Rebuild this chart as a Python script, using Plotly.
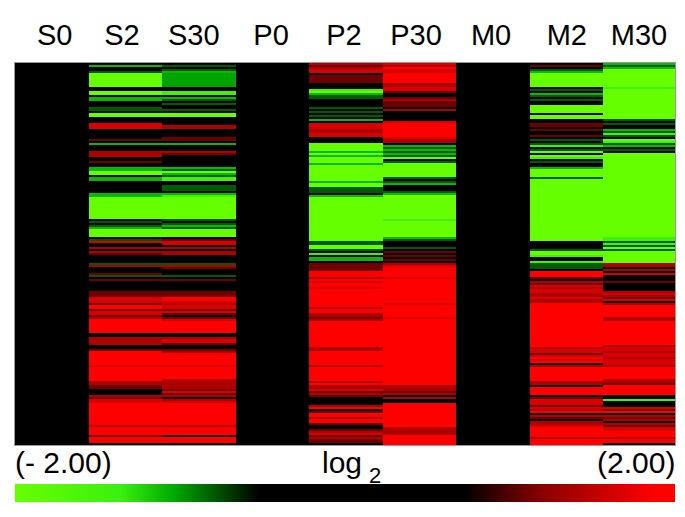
import plotly.graph_objects as go

# Chart content
COLUMNS = ["S0", "S2", "S30", "P0", "P2", "P30", "M0", "M2", "M30"]
N_ROWS = 191
LEVELS = {"G": -2.0, "h": -1.45, "g": -1.1, "n": -1.02, "d": -0.8, "k": 0.0, "e": 1.1, "r": 1.4, "m": 1.65, "R": 2.0}

# Each entry is <first row of band><level>, top to bottom
S0 = "0k"
S2 = ("0k 1g 2k 4d 5G 12k 14G 16k 17g 19k 22d 24k 25G 27k 30m 33k 38e 39k 40g 41k 44r 47k 49e 50k 52g 54G 56k 57g "
      "59k 65g 67G 78k 79d 80k 81d 82g 83G 87k 88d 89m 90k 92r 93k 94r 95e 96k 100d 101r 102k 105e 106d 107k 108e "
      "109k 114e 117m 120e 121R 123e 124m 126e 127r 128R 135k 137r 141k 143e 144R 151m 152R 159r 161e 163k 166r "
      "167e 168m 170R 181r 182R 186e 187R 190k")
S30 = ("0k 1d 2k 3d 4g 5n 12k 14h 16k 17g 18d 19k 20d 21k 23d 24k 25G 27k 31r 33k 37e 39k 40g 41k 44r 45e 46k "
       "52g 53d 54G 55g 56d 57h 59k 61d 64k 65g 66h 67G 78d 79k 80d 81g 82d 83G 87k 88e 89m 91k 92r 93k 94r 96k "
       "100d 101r 102e 103k 106d 107k 108e 109k 114e 117R 119m 120r 121m 123e 124m 125e 126k 127e 128m 129R 135k "
       "137r 138m 140e 141k 143e 144r 145R 151m 152R 158r 163e 164m 165e 166r 167k 168r 169m 170R 181r 182R 186k "
       "187R 190k")
P0 = "0k"
P2 = ("0r 1e 2r 3m 5k 6e 10k 13h 14G 15g 16d 18k 22d 23k 24d 25k 26d 27k 28g 29k 30m 33r 35m 37k 40G 44g 45G 46g "
      "47G 50g 51G 59g 60G 62d 65k 66g 67G 89d 91G 93d 94k 95h 96k 97g 99k 100e 104R 107r 108R 109m 110R 112m "
      "113R 122r 123R 125r 127e 128r 129R 142r 144R 151r 152R 159r 160R 161r 163m 164e 165r 166e 167k 171r 172R "
      "173k 174e 175R 177r 178R 180e 181k 183e 184r 185m 186e 187r 188e 190k")
P30 = ("0m 1r 2R 3m 5R 10r 12m 14e 15k 17e 18r 19e 22k 23r 24k 29m 30R 37m 38r 40k 41g 42d 43g 44d 45g 46d 47G 48k "
       "49d 50G 57d 58k 59d 60g 61k 64d 65g 66G 78h 79G 87g 88d 89k 92d 93k 94e 95k 96e 97k 98e 99k 100r 101m 102R "
       "107m 108R 120m 121R 127m 128R 161r 164e 165r 166k 167r 168k 170R 182r 186R")
M0 = "0k"
M2 = ("0k 1e 2k 3d 4g 5G 12k 13d 14k 15g 16d 17k 18d 19k 21G 25k 26G 28k 30e 32k 33e 34k 36e 37k 38d 39k 40d 41h "
      "42k 43d 44G 45k 46G 47h 48k 49d 50k 52g 53G 57d 58G 89k 93d 94G 96h 97k 99h 100d 103k 104R 107e 108k 109r "
      "110e 111m 112r 113m 115r 117m 118r 120R 142r 143m 145e 146m 147R 148m 149R 150k 151r 152R 159r 161k 162R "
      "166k 167e 168m 171e 172m 173r 174R 175k 176r 177e 178k 179r 181m 182R 187r 188R")
M30 = ("0g 1d 2g 3G 12h 13G 28d 29k 30d 31k 33g 34d 35h 36d 37k 38G 39h 40d 41g 42k 43d 44k 45G 87h 89d 90h 91d 92G "
       "93d 94G 100r 101r 102k 103r 104k 105m 106k 109e 110k 114r 115m 116r 117e 118m 119k 120r 121R 127r 129R 141r "
       "142m 144r 145m 147r 148m 151r 152R 158r 160e 161R 166k 168h 169k 172m 173e 174R 175k 176r 177e 178r 179k "
       "180r 181e 182m 184R 187r 188R 190k")

# Scale stops
SCALE = [[0.0, "#66ff00"], [0.16, "#39f010"], [0.24, "#00aa00"], [0.37, "#000000"], [0.68, "#000000"],
         [0.80, "#8b0000"], [0.97, "#ff0000"], [1.0, "#ff0000"]]


def expand(spec):
    values = [0.0] * N_ROWS
    items = [(int(s[:-1]), s[-1]) for s in spec.split()]
    for i, (start, code) in enumerate(items):
        end = items[i + 1][0] if i + 1 < len(items) else N_ROWS
        for r in range(start, end):
            values[r] = LEVELS[code]
    return values


cols = [expand(s) for s in [S0, S2, S30, P0, P2, P30, M0, M2, M30]]
z = [[c[r] for c in cols] for r in range(N_ROWS)]

FONT = "Liberation Sans, Arial, sans-serif"
LABEL_SIZE = 29
BOTTOM_SIZE = 30

fig = go.Figure(go.Heatmap(
    z=z, x=list(range(len(COLUMNS))), y=list(range(N_ROWS)),
    zmin=-2, zmax=2, colorscale=SCALE, zsmooth=False, hoverongaps=False,
    colorbar=dict(orientation="h", x=0, xanchor="left", y=-0.149, yanchor="bottom", len=1, lenmode="fraction",
                  thickness=18, xpad=0, ypad=0, outlinewidth=0, borderwidth=0, showticklabels=False, ticks=""),
))

# The page adds an 8 px body margin, so the figure is sized to stay inside the window.
fig.update_layout(
    width=669, height=501, paper_bgcolor="white", plot_bgcolor="black",
    margin=dict(l=7, r=2, t=55, b=64, autoexpand=False),
    font=dict(family=FONT, color="#000000", size=LABEL_SIZE),
    xaxis=dict(side="top", range=[-0.5, 8.47], tickmode="array",
               tickvals=[0.04, 0.954, 1.93, 2.98, 3.97, 4.95, 5.97, 7.0, 7.98], ticktext=COLUMNS,
               ticks="", showgrid=False, zeroline=False, showline=True, linecolor="#999999", linewidth=1, mirror=True,
               ticklabelstandoff=5, tickfont=dict(size=LABEL_SIZE)),
    yaxis=dict(range=[N_ROWS - 0.5, -0.5], showticklabels=False, ticks="", showgrid=False, zeroline=False,
               showline=True, linecolor="#999999", linewidth=1, mirror=True),
    annotations=[
        dict(text="(- 2.00)", x=0, y=-0.047, xref="paper", yref="paper", xanchor="left", yanchor="middle",
             showarrow=False, xshift=-2, font=dict(size=BOTTOM_SIZE)),
        dict(text="(2.00)", x=1, y=-0.047, xref="paper", yref="paper", xanchor="right", yanchor="middle",
             showarrow=False, xshift=2, font=dict(size=BOTTOM_SIZE)),
        dict(text="log", x=0.495, y=-0.047, xref="paper", yref="paper", xanchor="center", yanchor="middle",
             showarrow=False, font=dict(size=BOTTOM_SIZE)),
        dict(text="2", x=0.533, y=-0.08, xref="paper", yref="paper", xanchor="left", yanchor="middle",
             showarrow=False, font=dict(size=22)),
    ],
)

fig.write_html("out.html")
